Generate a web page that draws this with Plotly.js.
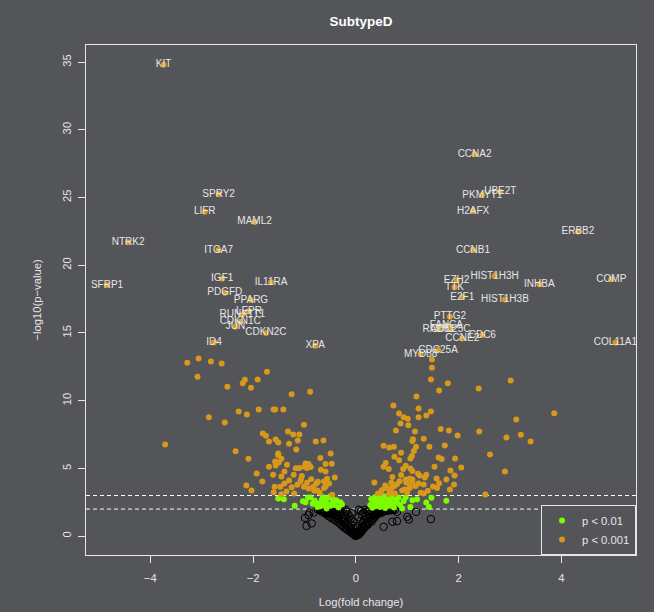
<!DOCTYPE html>
<html>
<head>
<meta charset="utf-8">
<script src="https://cdn.plot.ly/plotly-3.0.1.min.js"></script>
<style>html,body{margin:0;padding:0;background:#545559;}#chart{width:654px;height:612px;}</style>
</head>
<body>
<div id="chart"></div>
<script>
// Labeled genes: [logFC, -log10(p)]
const geneNames = ["KIT","SPRY2","LIFR","MAML2","NTRK2","ITGA7","SFRP1","IGF1","IL11RA","PDGFD","PPARG","LEPR","RUNX1T1","CDKN1C","JUN","CDKN2C","ID4","XPA",
  "CCNA2","UBE2T","PKMYT1","H2AFX","ERBB2","CCNB1","HIST1H3H","EZH2","COMP","INHBA","TTK","E2F1","HIST1H3B","PTTG2","FANCA","RAD51","CDC25C","CDC6","CCNE2","COL11A1","CDC25A","MYD88"];
const geneX = [-3.74,-2.67,-2.94,-1.97,-4.43,-2.67,-4.84,-2.60,-1.65,-2.55,-2.04,-2.08,-2.21,-2.25,-2.34,-1.75,-2.76,-0.79,
  2.31,2.81,2.46,2.28,4.32,2.28,2.70,1.96,4.97,3.57,1.92,2.07,2.90,1.83,1.76,1.61,1.84,2.46,2.07,5.05,1.60,1.26];
const geneY = [34.8,25.26,23.95,23.2,21.69,21.12,18.54,19.03,18.74,17.97,17.43,16.6,16.37,15.83,15.46,15.0,14.3,14.06,
  28.19,25.43,25.18,24.0,22.5,21.12,19.2,18.9,18.96,18.59,18.37,17.65,17.48,16.2,15.56,15.29,15.29,14.85,14.6,14.3,13.74,13.44];

// p < 0.001 (unlabeled)
const orangePts = [
 [-3.28,12.80],[-3.06,13.12],[-2.82,12.90],[-2.61,12.75],[-3.08,11.77],[-1.73,12.13],[-2.16,11.54],[-1.91,11.57],[-2.20,11.28],[-2.50,11.03],
 [-2.04,10.95],[-1.25,10.47],[-0.89,10.66],[-2.28,9.21],[-2.12,8.99],[-1.89,9.36],[-1.60,9.36],[-1.57,9.36],[-1.41,9.36],[-2.86,8.77],
 [-2.55,8.40],[-1.01,8.22],[-3.71,6.77],[-1.81,7.58],[-1.75,7.41],[-1.32,7.73],[-1.22,7.51],[-1.10,7.51],[-1.56,7.14],[-1.69,6.99],
 [-1.51,6.92],[-1.13,7.07],[-1.30,6.82],[-0.78,6.99],[-0.63,7.07],[-1.16,6.40],[-1.51,6.11],[-1.51,5.98],[-2.34,6.26],[-0.49,6.11],
 [-1.45,5.71],[-0.69,5.78],[-2.09,5.71],[-1.57,5.52],[-1.50,5.44],[-1.69,5.12],[-1.34,5.27],[-1.56,5.22],[-0.98,5.37],[-0.92,5.32],
 [-1.00,5.12],[-0.95,5.04],[-0.88,5.10],[-0.59,5.32],[-0.47,5.34],[-1.17,5.02],[-1.10,5.04],[-0.68,4.90],[-0.59,4.78],[-1.39,4.78],
 [-1.93,4.63],[-1.61,4.53],[-1.21,4.53],[-1.45,4.41],[-1.07,4.19],[-0.87,4.21],[-1.30,4.11],[-0.41,4.34],[-1.82,4.04],[-0.74,4.01],
 [-0.62,4.04],[-0.56,4.23],[-0.52,3.89],[-0.59,3.67],[-1.08,4.04],[-1.39,3.89],[-1.58,3.64],[-1.47,3.64],[-2.13,3.74],[-1.25,3.62],
 [-1.14,3.79],[-1.01,3.64],[-0.92,3.52],[-0.83,3.64],[-0.77,3.89],[-2.03,3.38],[-0.81,3.35],[-0.75,3.38],[-0.46,3.05],[-1.45,3.10],
 [-1.35,3.30],[-1.20,3.15],[-0.70,3.20],[-0.62,3.55],[-1.60,3.25],[-0.95,3.95],[-1.05,4.45],
 [1.48,13.05],[1.48,12.43],[1.46,11.57],[1.79,11.28],[1.62,10.76],[3.01,11.50],[2.39,10.91],[1.18,10.32],[0.73,9.65],[1.22,9.43],
 [1.46,9.21],[0.84,9.06],[0.93,8.77],[1.01,8.66],[1.37,8.91],[1.22,8.77],[0.87,8.32],[1.02,8.18],[1.15,7.73],[0.78,7.81],
 [1.65,7.92],[1.81,7.81],[1.98,7.44],[3.12,8.62],[2.40,7.73],[3.21,7.48],[2.93,7.29],[3.40,6.99],[1.11,7.16],[1.10,7.02],
 [1.32,7.19],[0.54,6.67],[0.65,6.55],[0.74,6.60],[1.17,6.60],[1.43,6.60],[1.73,6.70],[1.13,6.28],[0.88,6.15],[2.61,6.03],
 [0.75,5.86],[1.09,5.91],[1.06,5.74],[1.61,5.81],[1.67,5.69],[0.84,5.61],[1.93,5.74],[0.58,5.41],[0.54,5.12],[0.64,4.95],
 [0.97,5.19],[1.06,5.00],[1.10,4.82],[0.92,4.95],[0.88,4.51],[1.53,5.12],[2.05,5.07],[1.84,4.85],[2.90,4.78],[0.71,4.36],
 [1.21,4.60],[1.24,4.48],[1.37,4.53],[1.34,4.34],[1.57,4.26],[1.92,4.48],[1.76,4.19],[0.97,4.19],[1.05,4.26],[1.10,4.19],
 [0.98,3.97],[1.10,4.01],[1.05,3.69],[0.85,4.06],[0.80,3.84],[0.36,3.97],[0.69,3.94],[0.71,3.64],[0.68,3.47],[0.57,3.74],
 [1.91,3.82],[1.16,3.71],[1.32,3.82],[1.22,3.89],[1.50,3.67],[1.83,3.45],[0.90,3.38],[1.26,3.20],[1.32,3.15],[0.48,3.20],
 [0.43,3.15],[2.52,3.08],[0.76,3.15],[0.64,3.10],[3.86,9.08],[0.51,3.40],[0.60,3.55],[0.66,3.30],[0.95,3.45],[1.00,3.25],
 [1.05,3.55],[0.75,3.70],[1.40,3.35],[1.58,3.55],[1.62,3.90]
];

// p < 0.01
const greenPts = [
 [-1.51,2.78],[-1.40,2.73],[-1.19,2.25],[-1.03,2.58],[-0.98,2.50],[-0.93,2.85],[-0.88,2.86],[-0.80,2.62],[-0.75,2.15],[-0.72,2.42],
 [-0.69,2.20],[-0.66,2.70],[-0.62,2.28],[-0.60,2.55],[-0.56,2.80],[-0.53,2.35],[-0.50,2.92],[-0.49,2.24],[-0.46,2.78],[-0.44,2.55],
 [-0.41,2.30],[-0.38,2.65],[-0.34,2.12],[-0.30,2.50],[-0.27,2.34],[-0.57,2.05],[-0.64,2.88],[-0.84,2.40],
 [0.28,2.30],[0.30,2.75],[0.32,2.10],[0.35,2.55],[0.37,2.88],[0.39,2.20],[0.41,2.62],[0.43,2.40],[0.45,2.85],[0.47,2.15],
 [0.49,2.70],[0.51,2.32],[0.53,2.55],[0.55,2.95],[0.57,2.08],[0.59,2.45],[0.62,2.78],[0.64,2.25],[0.66,2.60],[0.69,2.90],
 [0.71,2.38],[0.74,2.12],[0.77,2.70],[0.80,2.48],[0.83,2.85],[0.86,2.30],[0.90,2.05],[0.93,2.60],[1.06,2.16],[1.10,2.66],
 [1.19,2.73],[1.37,2.49],[1.42,2.16],[1.47,2.83],[1.76,2.61],[0.97,2.88]
];

// not significant
const blackPts = [
 [-0.90,1.75],[-0.99,1.35],[-0.86,0.94],[-0.96,0.76],[-0.82,1.75],[-0.92,1.55],
 [1.00,1.43],[1.03,1.23],[1.17,1.79],[1.46,1.26],[0.80,1.79],[0.71,1.06],[0.54,0.69],[0.80,1.11],
 [-0.74,1.98],[-0.70,1.90],[-0.68,1.96],[-0.66,1.80],[-0.63,1.92],[-0.61,1.70],[-0.60,1.85],[-0.58,1.99],[-0.57,1.62],[-0.55,1.78],
 [-0.54,1.50],[-0.52,1.90],[-0.50,1.42],[-0.49,1.68],[-0.47,1.95],[-0.46,1.30],[-0.45,1.55],[-0.43,1.81],[-0.42,1.22],[-0.41,1.45],
 [-0.40,1.97],[-0.38,1.12],[-0.37,1.35],[-0.36,1.66],[-0.35,1.88],[-0.34,1.02],[-0.33,1.25],[-0.32,1.52],[-0.31,0.92],[-0.30,1.75],
 [-0.29,1.15],[-0.28,0.82],[-0.27,1.40],[-0.26,1.95],[-0.25,0.72],[-0.24,1.05],[-0.23,1.62],[-0.22,0.62],[-0.21,0.90],[-0.20,1.30],
 [-0.19,0.55],[-0.18,1.80],[-0.17,0.48],[-0.16,0.75],[-0.15,1.10],[-0.14,0.40],[-0.13,0.62],[-0.12,1.45],[-0.11,0.33],[-0.10,0.50],
 [-0.09,0.85],[-0.08,0.25],[-0.07,0.40],[-0.06,0.18],[-0.05,0.60],[-0.04,0.12],[-0.03,0.28],[-0.02,0.07],[-0.01,0.03],[-0.56,1.85],
 [-0.65,1.99],[-0.39,1.75],[-0.44,1.62],[-0.48,1.82],[-0.53,1.70],[-0.62,1.88],[-0.35,1.45],[-0.25,1.25],[-0.15,1.60],[-0.10,1.25],
 [-0.20,1.95],[-0.05,1.05],[-0.30,1.98],[-0.08,1.70],
 [0.01,0.04],[0.02,0.09],[0.03,0.15],[0.04,0.22],[0.05,0.10],[0.06,0.30],[0.07,0.18],[0.08,0.40],[0.09,0.26],[0.10,0.52],
 [0.11,0.35],[0.12,0.70],[0.13,0.45],[0.14,0.95],[0.15,0.55],[0.16,1.20],[0.17,0.66],[0.18,0.85],[0.19,1.50],[0.20,0.75],
 [0.21,1.05],[0.22,1.80],[0.23,0.85],[0.24,1.30],[0.25,0.95],[0.26,1.62],[0.27,1.05],[0.28,1.95],[0.29,1.20],[0.30,1.45],
 [0.31,1.10],[0.32,1.75],[0.33,1.30],[0.34,1.55],[0.35,1.92],[0.36,1.35],[0.37,1.70],[0.38,1.48],[0.39,1.99],[0.40,1.58],
 [0.41,1.82],[0.42,1.62],[0.43,1.72],[0.44,1.90],[0.45,1.68],[0.46,1.98],[0.47,1.78],[0.48,1.85],[0.50,1.72],[0.51,1.95],
 [0.53,1.82],[0.55,1.90],[0.57,1.98],[0.59,1.86],[0.62,1.95],[0.64,1.88],[0.67,1.97],[0.70,1.92],[0.73,1.99],[0.76,1.94],
 [0.08,1.10],[0.12,1.60],[0.05,1.40],[0.18,1.95],[0.10,1.85],[0.03,0.75],[0.15,1.75],[0.25,1.85],[0.06,1.95]
];

const thresholds = [2, 3];
const xTicks = [-4, -2, 0, 2, 4];
const yTicks = [0, 5, 10, 15, 20, 25, 30, 35];

const fg = '#e6e6e6';
const fam = '"Liberation Sans", Arial, sans-serif';

const traces = [
  { x: blackPts.map(p => p[0]), y: blackPts.map(p => p[1]), mode: 'markers', type: 'scatter', showlegend: false,
    marker: { symbol: 'circle-open', size: 7.5, color: '#000000', line: { width: 1, color: '#000000' } } },
  { x: greenPts.map(p => p[0]), y: greenPts.map(p => p[1]), mode: 'markers', type: 'scatter', name: 'p < 0.01',
    marker: { size: 6, color: '#7CFC00' } },
  { x: orangePts.map(p => p[0]).concat(geneX), y: orangePts.map(p => p[1]).concat(geneY), mode: 'markers', type: 'scatter', name: 'p < 0.001',
    marker: { size: 6, color: '#D8981A' } },
  { x: geneX, y: geneY, text: geneNames, mode: 'text', type: 'scatter', showlegend: false, cliponaxis: false,
    textposition: 'middle center', textfont: { family: fam, size: 10, color: fg } }
];

const axisCommon = {
  showline: true, mirror: true, linecolor: fg, linewidth: 1,
  ticks: 'outside', ticklen: 7, tickcolor: fg, tickwidth: 1,
  showgrid: false, zeroline: false, tickmode: 'array',
  tickfont: { family: fam, size: 11.25, color: fg }
};

const layout = {
  width: 654, height: 612,
  paper_bgcolor: '#545559', plot_bgcolor: '#545559',
  margin: { l: 86, r: 18, t: 45, b: 57 },
  font: { family: fam, color: fg },
  title: { text: '<b>SubtypeD</b>', font: { family: fam, size: 13.5, color: '#ffffff' },
           x: 0.5, xref: 'paper', y: 1 - 21.5 / 612, yref: 'container', yanchor: 'middle' },
  xaxis: Object.assign({}, axisCommon, {
    range: [-5.25, 5.45], tickvals: xTicks, ticklabelstandoff: 5,
    title: { text: 'Log(fold change)', font: { family: fam, size: 11.25, color: fg }, standoff: 15 }
  }),
  yaxis: Object.assign({}, axisCommon, {
    range: [-1.39, 36.26], tickvals: yTicks, tickangle: -90, ticklabelstandoff: 3,
    title: { text: '−log10(p−value)', font: { family: fam, size: 11.25, color: fg }, standoff: 16 }
  }),
  shapes: thresholds.map(t => ({ type: 'line', xref: 'paper', x0: 0, x1: 1, yref: 'y', y0: t, y1: t,
    layer: 'below', line: { color: '#ffffff', width: 1, dash: '4px,3px' } })),
  legend: { x: 1, xanchor: 'right', y: 0, yanchor: 'bottom', bgcolor: '#545559', bordercolor: fg, borderwidth: 1,
    font: { family: fam, size: 11.25, color: fg }, itemwidth: 30, tracegroupgap: 0 },
  hovermode: false
};

Plotly.newPlot('chart', traces, layout, { displayModeBar: false, staticPlot: true });
</script>
</body>
</html>
